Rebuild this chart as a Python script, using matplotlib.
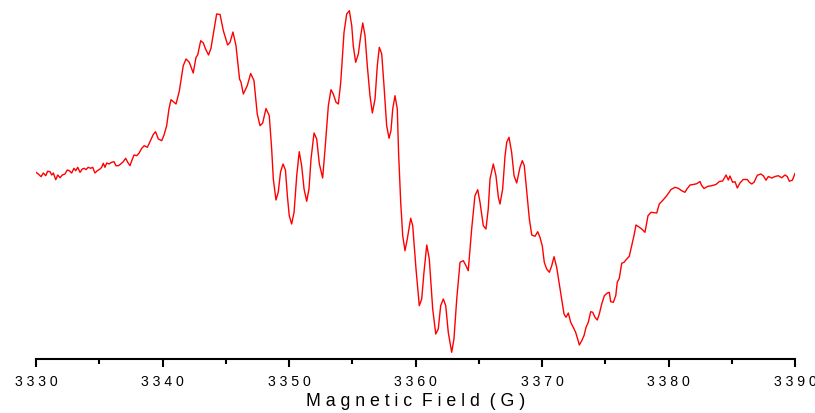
import matplotlib
matplotlib.use("Agg")
import matplotlib.pyplot as plt
from matplotlib.ticker import MultipleLocator, FuncFormatter

# EPR first-derivative spectrum: magnetic field (G) vs. signal (arb. units)
field = [
    3330.00, 3330.18, 3330.40, 3330.58, 3330.77, 3330.92, 3331.11, 3331.24, 3331.37, 3331.56,
    3331.72, 3331.90, 3332.08, 3332.29, 3332.47, 3332.63, 3332.82, 3333.00, 3333.14, 3333.30,
    3333.48, 3333.66, 3333.82, 3333.95, 3334.13, 3334.32, 3334.48, 3334.66, 3334.85, 3335.06,
    3335.19, 3335.32, 3335.45, 3335.59, 3335.77, 3335.98, 3336.17, 3336.32, 3336.51, 3336.70,
    3336.90, 3337.09, 3337.25, 3337.43, 3337.57, 3337.75, 3337.96, 3338.14, 3338.36, 3338.56,
    3338.80, 3339.01, 3339.27, 3339.45, 3339.67, 3339.94, 3340.12, 3340.33, 3340.51, 3340.67,
    3341.07, 3341.33, 3341.64, 3341.86, 3342.12, 3342.43, 3342.65, 3342.78, 3343.02, 3343.23,
    3343.38, 3343.64, 3343.83, 3344.02, 3344.28, 3344.55, 3344.81, 3345.15, 3345.34, 3345.57,
    3345.81, 3346.09, 3346.21, 3346.39, 3346.70, 3346.97, 3347.23, 3347.49, 3347.71, 3347.92,
    3348.18, 3348.44, 3348.63, 3348.76, 3348.97, 3349.15, 3349.33, 3349.53, 3349.72, 3349.87,
    3350.02, 3350.21, 3350.40, 3350.61, 3350.81, 3351.00, 3351.19, 3351.40, 3351.58, 3351.74,
    3351.98, 3352.19, 3352.40, 3352.66, 3352.85, 3353.11, 3353.32, 3353.50, 3353.72, 3353.90,
    3354.09, 3354.35, 3354.56, 3354.77, 3354.96, 3355.08, 3355.27, 3355.48, 3355.67, 3355.83,
    3356.01, 3356.19, 3356.40, 3356.59, 3356.80, 3356.98, 3357.14, 3357.33, 3357.51, 3357.72,
    3357.91, 3358.06, 3358.20, 3358.38, 3358.56, 3358.66, 3358.83, 3358.99, 3359.17, 3359.35,
    3359.62, 3359.78, 3360.04, 3360.30, 3360.49, 3360.67, 3360.89, 3361.09, 3361.36, 3361.60,
    3361.80, 3361.99, 3362.20, 3362.39, 3362.59, 3362.86, 3363.04, 3363.26, 3363.52, 3363.78,
    3363.99, 3364.17, 3364.44, 3364.70, 3364.92, 3365.10, 3365.36, 3365.57, 3365.75, 3365.89,
    3366.15, 3366.36, 3366.55, 3366.68, 3366.89, 3367.08, 3367.21, 3367.39, 3367.60, 3367.79,
    3368.00, 3368.26, 3368.44, 3368.60, 3368.79, 3369.00, 3369.19, 3369.45, 3369.66, 3369.84,
    3370.02, 3370.18, 3370.37, 3370.58, 3370.77, 3370.95, 3371.16, 3371.37, 3371.56, 3371.74,
    3371.90, 3372.08, 3372.27, 3372.47, 3372.66, 3372.82, 3372.95, 3373.14, 3373.32, 3373.48,
    3373.66, 3373.85, 3374.01, 3374.19, 3374.37, 3374.53, 3374.72, 3374.93, 3375.16, 3375.32,
    3375.43, 3375.64, 3375.83, 3375.95, 3376.11, 3376.30, 3376.48, 3376.70, 3376.90, 3377.09,
    3377.27, 3377.43, 3377.61, 3377.88, 3378.14, 3378.38, 3378.62, 3379.07, 3379.27, 3379.57,
    3379.86, 3380.20, 3380.51, 3380.77, 3381.04, 3381.30, 3381.46, 3381.70, 3381.96, 3382.23,
    3382.49, 3382.62, 3382.81, 3383.07, 3383.41, 3383.75, 3384.02, 3384.28, 3384.55, 3384.73,
    3384.86, 3385.07, 3385.26, 3385.44, 3385.65, 3385.91, 3386.23, 3386.39, 3386.58, 3386.76,
    3387.02, 3387.29, 3387.49, 3387.71, 3387.89, 3388.16, 3388.42, 3388.68, 3388.95, 3389.21,
    3389.39, 3389.55, 3389.79, 3390.00,
]

signal = [
    1.7, 0.0, -2.7, 1.0, -1.7, 2.7, 2.3, -1.0, 1.0, -5.7,
    -1.0, -3.7, -1.0, 0.0, 4.0, 3.3, 1.0, 5.7, 3.3, 6.7,
    1.7, 5.0, 5.7, 4.3, 6.7, 5.7, 6.7, 1.0, 3.3, 5.0,
    6.7, 10.7, 6.7, 11.0, 10.0, 11.7, 12.3, 8.3, 8.3, 10.0,
    12.3, 15.7, 11.7, 8.3, 13.3, 19.0, 18.3, 20.7, 25.7, 28.3,
    26.7, 32.3, 39.5, 42.3, 35.0, 33.3, 39.0, 48.3, 65.0, 74.3,
    70.0, 83.0, 108.3, 115.0, 111.7, 101.0, 116.7, 119.0, 133.3, 131.0,
    125.7, 119.0, 125.7, 140.0, 160.0, 159.5, 143.3, 129.0, 131.7, 142.0,
    128.3, 95.0, 91.7, 80.0, 88.3, 100.5, 93.5, 60.0, 48.3, 51.0,
    65.5, 58.3, 25.0, -5.0, -26.0, -18.3, 2.0, 10.0, 4.0, -21.7,
    -41.7, -50.0, -38.3, -1.7, 22.3, 8.3, -15.0, -27.3, -15.0, 15.0,
    41.0, 35.0, 10.0, -4.0, 25.0, 68.3, 84.3, 80.0, 71.7, 70.0,
    91.7, 141.7, 160.0, 163.3, 148.3, 128.3, 111.7, 120.0, 138.3, 151.0,
    138.3, 108.3, 78.3, 61.0, 75.0, 108.3, 126.7, 120.0, 88.3, 48.3,
    35.7, 43.3, 65.0, 78.3, 65.0, 22.0, -28.3, -61.7, -76.7, -65.0,
    -44.3, -51.7, -95.0, -131.7, -125.0, -98.3, -71.0, -85.0, -135.0, -160.0,
    -155.0, -131.7, -125.0, -131.7, -158.3, -178.3, -165.0, -125.0, -88.3, -86.7,
    -91.7, -96.7, -55.0, -21.7, -15.7, -28.3, -51.7, -55.0, -35.0, -5.0,
    10.0, -1.7, -23.3, -30.0, -15.0, 18.3, 31.7, 36.7, 21.7, -1.7,
    -9.0, 6.7, 13.3, 8.3, -16.7, -45.0, -61.0, -62.3, -57.7, -63.3,
    -71.7, -88.3, -95.0, -98.3, -91.7, -82.7, -93.3, -110.0, -125.0, -140.0,
    -143.3, -139.0, -148.3, -153.3, -158.3, -165.0, -171.0, -166.7, -161.7, -153.3,
    -148.3, -137.7, -138.3, -143.3, -146.0, -140.0, -130.0, -121.7, -119.0, -118.3,
    -127.7, -128.3, -121.7, -108.3, -104.3, -89.3, -88.3, -85.0, -82.3, -71.7,
    -61.7, -51.0, -52.5, -55.0, -58.3, -41.7, -38.3, -39.0, -30.0, -26.0,
    -21.7, -15.5, -13.3, -14.3, -16.7, -18.3, -15.0, -11.0, -10.5, -9.7,
    -7.5, -11.5, -14.5, -12.5, -11.7, -10.5, -7.5, -7.0, -1.0, -6.0,
    -2.0, -8.3, -7.7, -14.0, -9.0, -5.5, -5.5, -8.3, -10.0, -8.3,
    -1.3, 0.0, -1.7, -6.2, -2.5, -4.0, -2.5, -1.7, -3.8, -1.0,
    -2.5, -7.2, -6.2, 0.5,
]

x_range = (3330, 3390)
x_label = "Magnetic Field (G)"


def spaced(text):
    # Wide letter spacing: one space between characters, two between words
    return "  ".join(" ".join(word) for word in text.split(" "))


fig = plt.figure(figsize=(8.15, 4.14), dpi=100)
ax = fig.add_axes([36 / 815, 1 - 360 / 414, (795 - 36) / 815, 360 / 414])

ax.plot(field, signal, color="#ff0000", linewidth=1.0)

ax.set_xlim(*x_range)
ax.set_ylim(-185, 175)

for side in ("top", "right", "left"):
    ax.spines[side].set_visible(False)
ax.spines["bottom"].set_linewidth(1.5)
ax.set_yticks([])

ax.xaxis.set_major_locator(MultipleLocator(10))
ax.xaxis.set_minor_locator(MultipleLocator(5))
ax.xaxis.set_major_formatter(FuncFormatter(lambda v, pos: spaced(f"{v:.0f}")))
ax.tick_params(axis="x", which="major", direction="out", length=6, width=1.5,
               pad=5, labelsize=10.2)
ax.tick_params(axis="x", which="minor", direction="out", length=3.5, width=1.5)
for lbl in ax.get_xticklabels():
    lbl.set_family("Liberation Sans")

ax.set_xlabel(spaced(x_label), family="Liberation Sans", fontsize=12.8, labelpad=3)

fig.savefig("out.png", dpi=100)
